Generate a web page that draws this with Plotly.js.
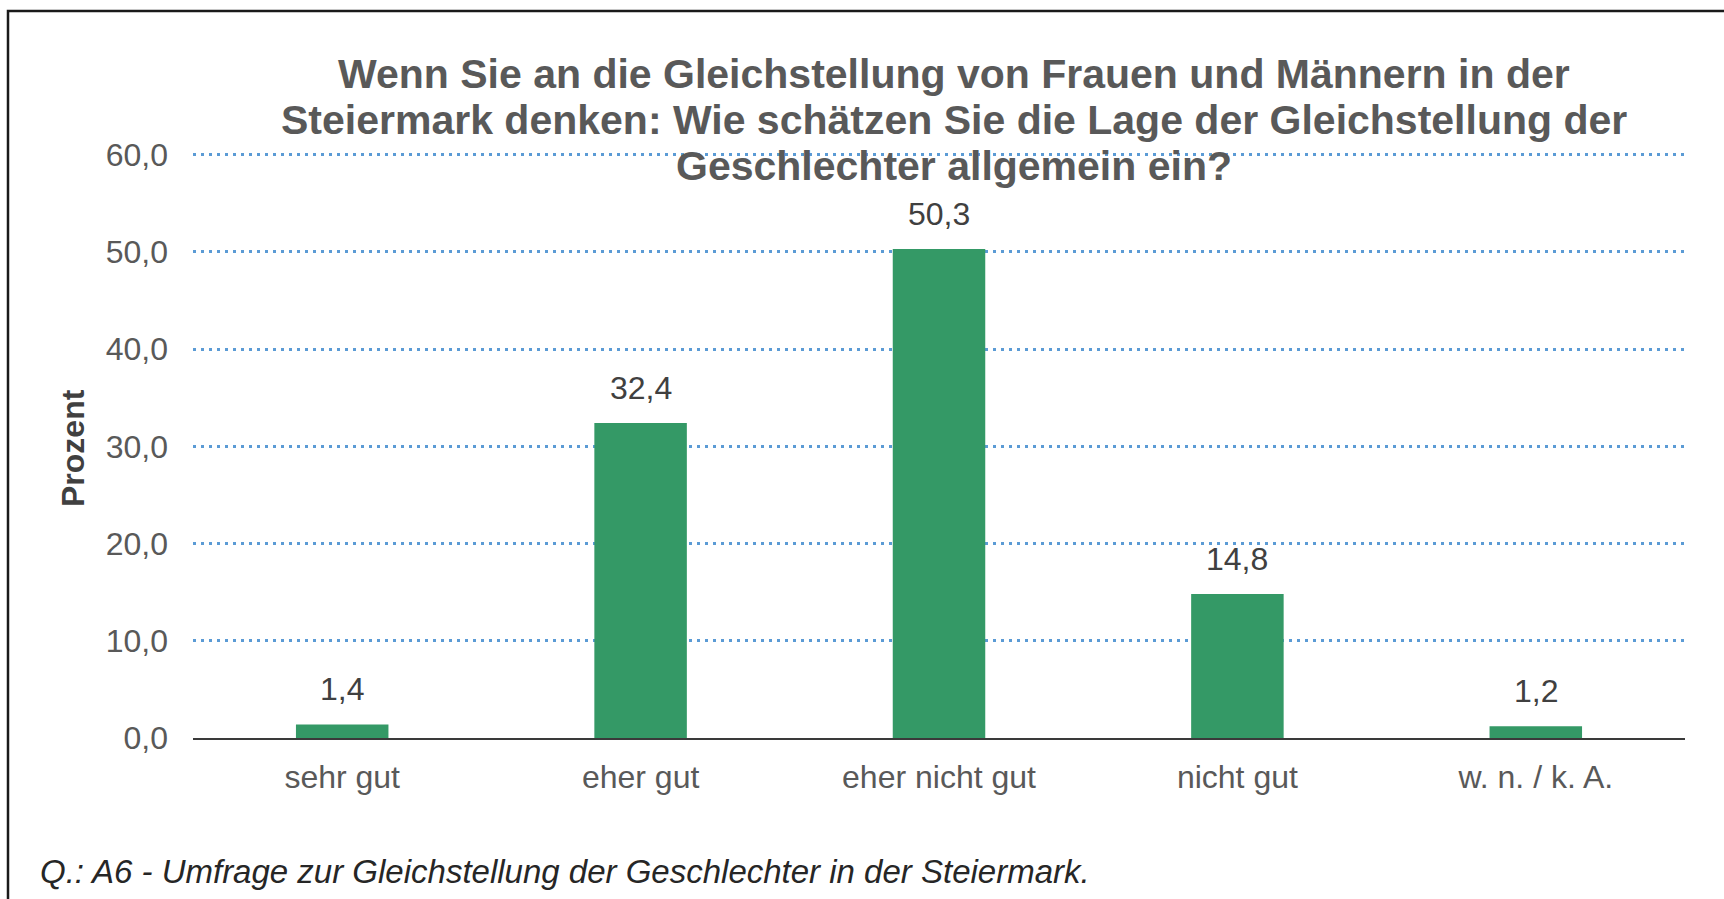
<!DOCTYPE html>
<html>
<head>
<meta charset="utf-8">
<script src="https://cdn.plot.ly/plotly-3.0.1.min.js"></script>
<style>
  html, body { margin: 0; padding: 0; background: #ffffff; }
  #chart { width: 1724px; height: 899px; }
</style>
</head>
<body>
<div id="chart"></div>
<script>
const categories = ["sehr gut", "eher gut", "eher nicht gut", "nicht gut", "w. n. / k. A."];
const values = [1.4, 32.4, 50.3, 14.8, 1.2];
const titleLines = [
  "Wenn Sie an die Gleichstellung von Frauen und Männern in der",
  "Steiermark denken: Wie schätzen Sie die Lage der Gleichstellung der",
  "Geschlechter allgemein ein?"
];
const yAxisTitle = "Prozent";
const footnote = "Q.: A6 - Umfrage zur Gleichstellung der Geschlechter in der Steiermark.";
const yTickValues = [0, 10, 20, 30, 40, 50, 60];

const FONT = "Liberation Sans, Arial, sans-serif";

// plot area geometry: y=0 at 738px, y=60 at 155px, range extended to 61
const PLOT_TOP = 145, PLOT_BOTTOM = 738, PLOT_LEFT = 193, PLOT_RIGHT = 1685;
const PH = PLOT_BOTTOM - PLOT_TOP, PW = PLOT_RIGHT - PLOT_LEFT;
const px2x = p => (p - PLOT_LEFT) / PW;
const px2y = p => (PLOT_BOTTOM - p) / PH;

const trace = {
  type: "bar",
  x: categories,
  y: values,
  marker: { color: "#349966", line: { width: 0 } },
  hoverinfo: "skip",
  showlegend: false
};

const annotations = [];
// data labels
categories.forEach((c, i) => {
  annotations.push({
    x: c, y: values[i], xref: "x", yref: "y",
    text: values[i].toFixed(1).replace(".", ","),
    showarrow: false, yanchor: "middle", yshift: 35,
    font: { family: FONT, size: 32, color: "#404040" }
  });
});
// title lines
const titleYpx = [74, 120, 166];
titleLines.forEach((t, i) => {
  annotations.push({
    x: px2x(954), y: px2y(titleYpx[i]), xref: "paper", yref: "paper",
    text: "<b>" + t + "</b>", showarrow: false,
    xanchor: "center", yanchor: "middle",
    font: { family: FONT, size: 41, color: "#595959" }
  });
});
// y-axis title
annotations.push({
  x: px2x(73), y: px2y(448), xref: "paper", yref: "paper",
  text: "<b>" + yAxisTitle + "</b>", showarrow: false, textangle: -90,
  xanchor: "center", yanchor: "middle",
  font: { family: FONT, size: 32, color: "#404040" }
});
// footnote
annotations.push({
  x: px2x(38), y: px2y(871), xref: "paper", yref: "paper",
  text: "<i>" + footnote + "</i>", showarrow: false,
  xanchor: "left", yanchor: "middle",
  font: { family: FONT, size: 33, color: "#262626" }
});

const layout = {
  width: 1724, height: 899,
  margin: { l: PLOT_LEFT, r: 1724 - PLOT_RIGHT, t: PLOT_TOP, b: 899 - PLOT_BOTTOM },
  paper_bgcolor: "#ffffff",
  plot_bgcolor: "#ffffff",
  separators: ",.",
  bargap: 0.69,
  font: { family: FONT, color: "#595959" },
  xaxis: {
    type: "category",
    showgrid: false,
    showline: true, linecolor: "#3a3a3a", linewidth: 2,
    ticks: "", zeroline: false,
    ticklabelstandoff: 10,
    tickfont: { family: FONT, size: 32, color: "#595959" },
    fixedrange: true
  },
  yaxis: {
    range: [0, 61],
    tickvals: yTickValues,
    tickformat: ".1f",
    showgrid: true, gridcolor: "#5B9BD5", gridwidth: 3, griddash: "3px,5px",
    zeroline: false, showline: false, ticks: "",
    ticklabelstandoff: 24,
    tickfont: { family: FONT, size: 32, color: "#595959" },
    fixedrange: true
  },
  annotations: annotations,
  shapes: [{
    type: "rect", xref: "paper", yref: "paper",
    x0: px2x(8), x1: px2x(1740), y0: px2y(910), y1: px2y(11),
    line: { color: "#1a1a1a", width: 2.5 }, fillcolor: "rgba(0,0,0,0)",
    layer: "below"
  }]
};

Plotly.newPlot("chart", [trace], layout, { displayModeBar: false, staticPlot: true });
</script>
</body>
</html>
